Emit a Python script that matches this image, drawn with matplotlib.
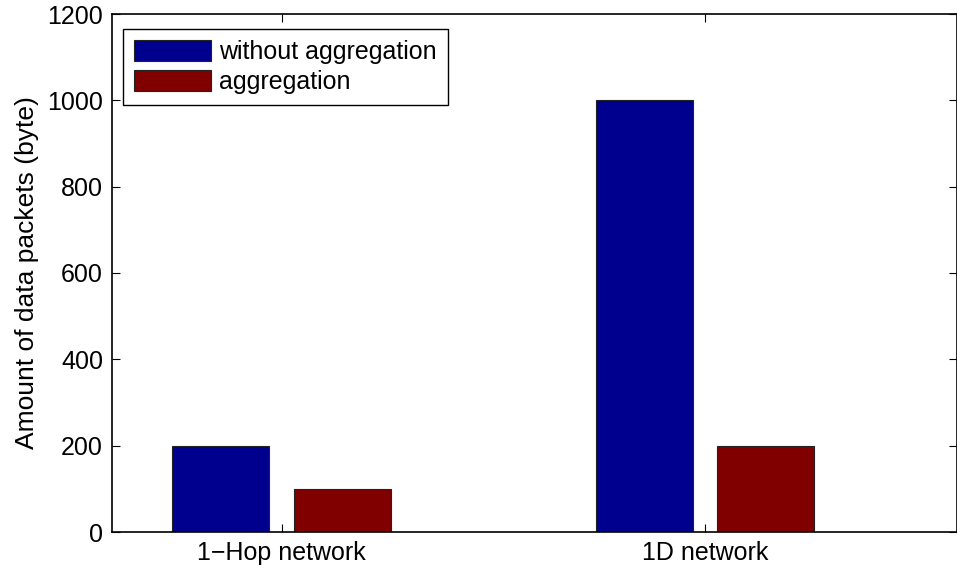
import matplotlib
matplotlib.use("Agg")
import numpy as np
import matplotlib.pyplot as plt

plt.rcParams['font.family'] = ['Liberation Sans', 'DejaVu Sans']

categories = ['1\u2212Hop network', '1D network']
without_agg = [200, 1000]
with_agg = [100, 200]
series_names = ['without aggregation', 'aggregation']

fig = plt.figure(figsize=(9.57, 5.72), dpi=100)
ax = fig.add_axes([112/957, 1-532/572, 845/957, 518/572])

x = np.arange(1, len(categories)+1)
w = 0.229
ax.bar(x-0.143, without_agg, w, color='#00008f', edgecolor='#222222', linewidth=0.8, label=series_names[0])
ax.bar(x+0.143, with_agg, w, color='#800000', edgecolor='#222222', linewidth=0.8, label=series_names[1])

ax.set_xlim(0.6, 2.594)
ax.set_ylim(0, 1200)
ax.set_xticks(x)
ax.set_xticklabels(categories)
ax.set_yticks(np.arange(0, 1201, 200))
ax.tick_params(direction='in', length=6, width=0.8, top=True, right=True, labelsize=18, pad=6.5)
for s in ax.spines.values():
    s.set_linewidth(1.2)
ax.set_ylabel('Amount of data packets (byte)', fontsize=19, labelpad=6)

leg = ax.legend(loc='upper left', bbox_to_anchor=(0.0127, 0.9716), borderaxespad=0,
                fontsize=18, handlelength=3.1, handleheight=0.88, handletextpad=0.32,
                labelspacing=0.25, borderpad=0.45, fancybox=False, framealpha=1)
leg.get_frame().set_edgecolor('black')
leg.get_frame().set_linewidth(1.0)

plt.savefig('out.png', dpi=100)
